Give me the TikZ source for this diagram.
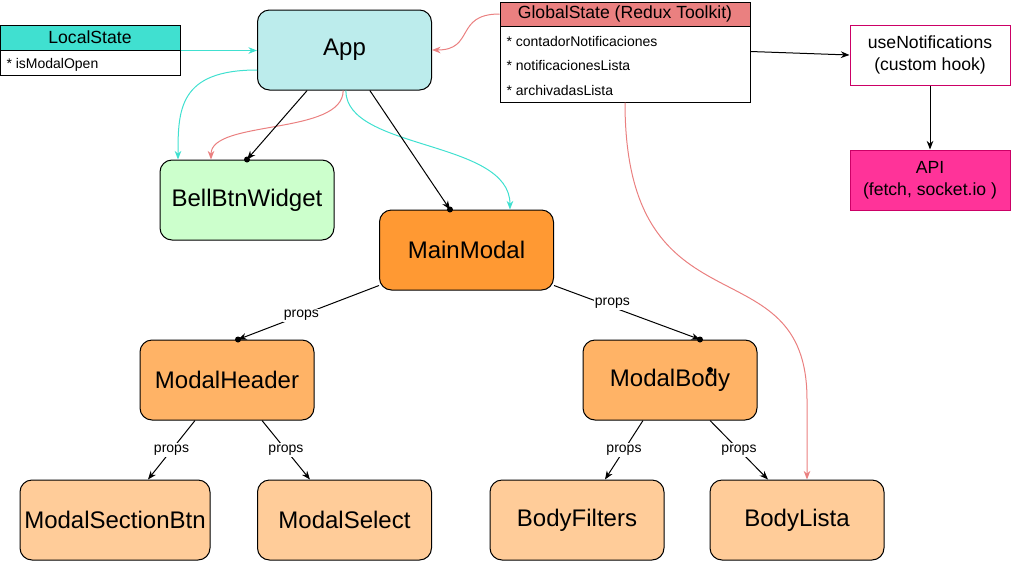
\documentclass[tikz,border=0pt]{standalone}
\usepackage{fontspec}
\setmainfont{Liberation Sans}
\usetikzlibrary{arrows.meta, calc}
\definecolor{lstatecol}{RGB}{64,224,208}
\definecolor{gstatecol}{RGB}{234,128,128}
\definecolor{appcol}{RGB}{188,236,236}
\definecolor{bellcol}{RGB}{204,255,204}
\definecolor{maincol}{RGB}{255,153,51}
\definecolor{midcol}{RGB}{255,179,102}
\definecolor{leafcol}{RGB}{255,204,153}
\definecolor{apicol}{RGB}{255,51,153}
\definecolor{hookcol}{RGB}{204,0,102}
\tikzset{
  comp/.style={draw, rounded corners=9pt, minimum width=130.5pt, minimum height=60pt,
    inner sep=0pt, font=\fontsize{18}{21}\selectfont},
  statehead/.style={draw, minimum height=18.75pt, inner sep=0pt, font=\fontsize{13.2}{16}\selectfont},
  statebody/.style={draw, fill=white, inner sep=0pt},
  staterow/.style={anchor=west, inner sep=0pt, font=\fontsize{10.5}{13}\selectfont},
  hookbox/.style={draw, minimum width=120pt, minimum height=45pt, inner sep=0pt, align=center,
    font=\fontsize{13.2}{16.5}\selectfont},
  propslbl/.style={fill=white, inner sep=1pt, font=\fontsize{10.5}{13}\selectfont},
  tealline/.style={draw=lstatecol, ->},
  redline/.style={draw=gstatecol, ->},
}
\begin{document}
\begin{tikzpicture}[x=0.75pt, y=-0.75pt, line width=0.75pt,
  >={Stealth[length=6.5pt,width=5pt]}]
\useasboundingbox (0,0) rectangle (1011,561);
% State boxes
\node[statehead, fill=lstatecol, minimum width=135pt] (lshead) at (90,37.5) {LocalState};
\node[statebody, minimum width=135pt, minimum height=18.75pt] (lsbody) at (90,62.5) {};
\node[staterow] (lsrow) at (6,65) {* isModalOpen};
\node[statehead, fill=gstatecol, minimum width=187.5pt, minimum height=18pt] (gshead) at (625,14) {GlobalState (Redux Toolkit)};
\node[statebody, minimum width=187.5pt, minimum height=57pt] (gsbody) at (625,64) {};
\node[staterow] (gsrow1) at (506,41) {* contadorNotificaciones};
\node[staterow] (gsrow2) at (506,65) {* notificacionesLista};
\node[staterow] (gsrow3) at (506,90) {* archivadasLista};
% Hook and api
\node[hookbox, draw=hookcol, fill=white] (hook) at (930,55) {useNotifications\\(custom hook)};
\node[hookbox, draw=hookcol, fill=apicol] (api) at (930,180) {API\\(fetch, socket.io )};
% Components
\node[comp, fill=appcol] (app) at (344.5,50) {App};
\node[comp, fill=bellcol] (bell) at (247,200) {BellBtnWidget};
\node[comp, fill=maincol] (main) at (466.5,250) {MainModal};
\node[comp, fill=midcol] (mheader) at (227,380) {ModalHeader};
\node[comp, fill=midcol] (mbody) at (670,380) {ModalBody};
\node[comp, fill=leafcol, minimum width=142.5pt] (msection) at (115,520) {ModalSectionBtn};
\node[comp, fill=leafcol] (mselect) at (344.5,520) {ModalSelect};
\node[comp, fill=leafcol] (bfilters) at (577,520) {BodyFilters};
\node[comp, fill=leafcol] (blista) at (797,520) {BodyLista};
% State connectors
\draw[tealline] (lshead.south east) -- (app.west |- lshead.south east);
\draw[tealline] ([yshift=-15pt]app.west) .. controls +(-78,0) and +(0,-50) .. ([xshift=-51.75pt]bell.north);
\draw[tealline] ([xshift=1pt]app.south) .. controls +(0,60) and +(0,-70) .. ([xshift=32.6pt]main.north);
\draw[redline] ([xshift=-1pt]app.south) .. controls +(0,45) and +(0,-40) .. ([xshift=-27pt]bell.north);
\draw[redline] (gshead.west) .. controls +(-45,0) and +(43,0) .. (app.east);
\draw[redline] (gsbody.south) .. controls +(0,238) and +(0,-160) .. ([xshift=7.5pt,yshift=60pt]blista.north) -- ([xshift=7.5pt]blista.north);
\draw[->] ([yshift=-19.5pt]gsbody.north east) -- (hook.west);
\draw[->] (hook.south) -- (api.north);
% Render connectors
\draw[->] ([xshift=-28pt]app.south) -- (bell.north);
\draw[->] ([xshift=19pt]app.south) -- ([xshift=-12.4pt]main.north);
\draw[->] ([yshift=3.75pt]main.south west) -- node[propslbl, pos=0.55] {props} ([xshift=8.25pt]mheader.north);
\draw[->] ([yshift=3.75pt]main.south east) -- node[propslbl, pos=0.4, yshift=3pt] {props} ([xshift=22.5pt]mbody.north);
\draw[->] ([xshift=-24pt]mheader.south) -- node[propslbl] {props} ([xshift=24.75pt]msection.north);
\draw[->] ([xshift=26.25pt]mheader.south) -- node[propslbl] {props} ([xshift=-25.9pt]mselect.north);
\draw[->] ([xshift=-20.25pt]mbody.south) -- node[propslbl] {props} ([xshift=21pt]bfilters.north);
\draw[->] ([xshift=30pt]mbody.south) -- node[propslbl] {props} ([xshift=-21.75pt]blista.north);
% Dots at the ends
\fill (bell.north) circle (2.25pt);
\fill ([xshift=-12.4pt]main.north) circle (2.25pt);
\fill ([xshift=8.25pt]mheader.north) circle (2.25pt);
\fill ([xshift=22.5pt]mbody.north) circle (2.25pt);
\fill (710,370) circle (2.25pt);
\end{tikzpicture}
\end{document}
